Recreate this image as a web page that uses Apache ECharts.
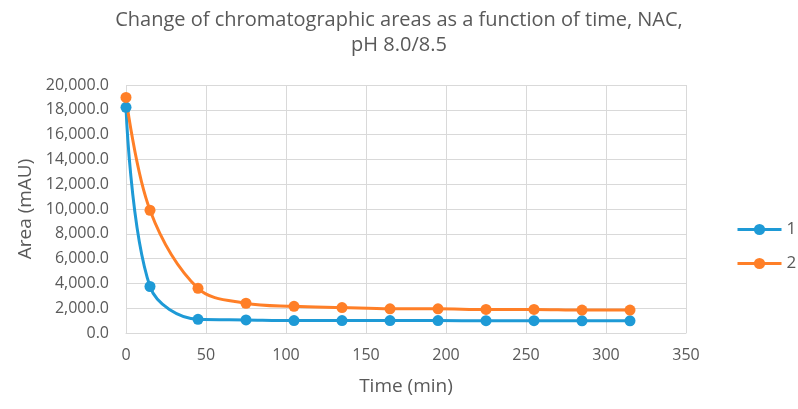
<!DOCTYPE html>
<html><head><meta charset="utf-8">
<script src="https://cdn.jsdelivr.net/npm/echarts@6/dist/echarts.min.js"></script>
<style>html,body{margin:0;padding:0;background:#fff}#c{width:798px;height:409px}</style>
</head><body><div id="c"></div>
<script>
const times = [0, 15, 45, 75, 105, 135, 165, 195, 225, 255, 285, 315];
const series1 = [18200, 3750, 1100, 1050, 1000, 1000, 1000, 1000, 990, 990, 980, 980];
const series2 = [19000, 9900, 3600, 2400, 2150, 2050, 1950, 1950, 1900, 1900, 1850, 1850];
const seriesNames = ['1', '2'];
const titleText = 'Change of chromatographic areas as a function of time, NAC,\npH 8.0/8.5';

const chart = echarts.init(document.getElementById('c'), null, {renderer: 'canvas'});
const font = '"Open Sans", sans-serif';
const gray = '#595959';
const mk = (name, vals, color) => ({
  name: name, type: 'line', smooth: 0.35,
  data: times.map((t, i) => [t, vals[i]]),
  symbol: 'circle', symbolSize: 11,
  lineStyle: {width: 3, color: color},
  itemStyle: {color: color},
  emphasis: {disabled: true}
});
chart.setOption({
  animation: false,
  textStyle: {fontFamily: font},
  title: {text: titleText, left: 'center', top: 3,
    textStyle: {color: gray, fontSize: 20, fontWeight: 'normal', lineHeight: 25, fontFamily: font}},
  grid: {left: 126, right: 112, top: 85, bottom: 76},
  legend: {orient: 'vertical', left: 731, top: 216, itemGap: 17, itemWidth: 44, itemHeight: 14,
    lineStyle: {width: 3},
    textStyle: {color: gray, fontSize: 17, fontFamily: font},
    data: seriesNames},
  xAxis: {type: 'value', min: 0, max: 350, interval: 50,
    name: 'Time (min)', nameLocation: 'middle', nameGap: 44,
    nameTextStyle: {color: gray, fontSize: 19, fontFamily: font},
    axisLine: {show: true, lineStyle: {color: '#d9d9d9', width: 1}},
    axisTick: {show: false},
    axisLabel: {color: gray, fontSize: 16, margin: 14, fontFamily: font},
    splitLine: {show: true, lineStyle: {color: '#d9d9d9', width: 1}}},
  yAxis: {type: 'value', min: 0, max: 20000, interval: 2000,
    name: 'Area (mAU)', nameLocation: 'middle', nameGap: 90,
    nameTextStyle: {color: gray, fontSize: 19, fontFamily: font},
    axisLine: {show: false}, axisTick: {show: false},
    axisLabel: {color: gray, fontSize: 16, margin: 17, fontFamily: font,
      formatter: v => v.toLocaleString('en-US', {minimumFractionDigits: 1, maximumFractionDigits: 1})},
    splitLine: {show: true, lineStyle: {color: '#d9d9d9', width: 1}}},
  series: [mk(seriesNames[0], series1, '#1E9AD6'), mk(seriesNames[1], series2, '#FF7F27')]
});
</script></body></html>
